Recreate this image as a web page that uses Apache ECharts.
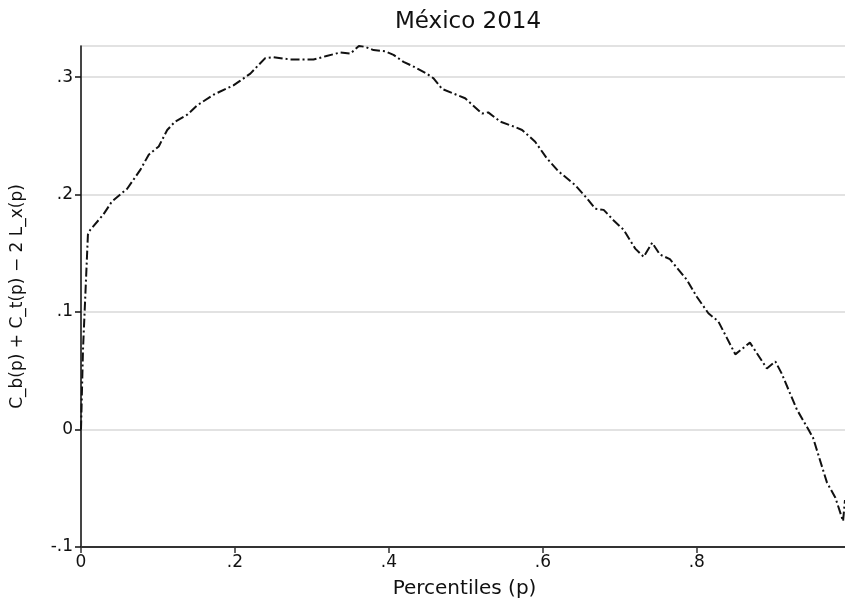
<!DOCTYPE html>
<html>
<head>
<meta charset="utf-8">
<script src="https://cdn.jsdelivr.net/npm/echarts@6/dist/echarts.min.js"></script>
<style>html,body{margin:0;padding:0;background:#fff}#c{width:845px;height:602px}</style>
</head>
<body>
<div id="c"></div>
<script>
const titleText = "México 2014";
const xName = "Percentiles (p)";
const yName = "C_b(p) + C_t(p) − 2 L_x(p)";
const xTicks = [0, 0.2, 0.4, 0.6, 0.8];
const yTicks = [-0.1, 0, 0.1, 0.2, 0.3];
const pVals = [0, 0.0026, 0.009, 0.012, 0.029, 0.040, 0.060, 0.077, 0.088, 0.101, 0.112, 0.122, 0.138, 0.151, 0.172, 0.198, 0.207, 0.220, 0.239, 0.250, 0.272, 0.302, 0.319, 0.337, 0.350, 0.361, 0.369, 0.380, 0.395, 0.406, 0.419, 0.432, 0.449, 0.458, 0.469, 0.484, 0.499, 0.521, 0.529, 0.545, 0.562, 0.573, 0.590, 0.605, 0.620, 0.642, 0.657, 0.668, 0.679, 0.692, 0.705, 0.720, 0.731, 0.742, 0.752, 0.765, 0.787, 0.800, 0.815, 0.828, 0.839, 0.850, 0.869, 0.891, 0.902, 0.910, 0.930, 0.945, 0.951, 0.969, 0.980, 0.990, 0.9925];
const yVals = [0, 0.068, 0.166, 0.170, 0.183, 0.194, 0.205, 0.221, 0.234, 0.241, 0.255, 0.262, 0.268, 0.276, 0.285, 0.293, 0.297, 0.303, 0.316, 0.317, 0.315, 0.315, 0.318, 0.321, 0.320, 0.3265, 0.3258, 0.323, 0.322, 0.319, 0.313, 0.309, 0.303, 0.299, 0.290, 0.286, 0.282, 0.269, 0.270, 0.262, 0.258, 0.255, 0.245, 0.231, 0.220, 0.208, 0.197, 0.188, 0.187, 0.178, 0.170, 0.154, 0.147, 0.159, 0.149, 0.145, 0.1275, 0.113, 0.099, 0.092, 0.078, 0.064, 0.074, 0.052, 0.058, 0.048, 0.017, 0.000, -0.007, -0.045, -0.058, -0.078, -0.060];

const fmt = v => {
  const r = Math.round(v * 10) / 10;
  if (Math.abs(v - r) > 1e-6) return '';
  if (r === 0) return '0';
  return String(r).replace('0.', '.');
};
const fontFam = '"DejaVu Sans", "Noto Sans", sans-serif';
const chart = echarts.init(document.getElementById('c'), null, {renderer: 'canvas'});
chart.setOption({
  animation: false,
  backgroundColor: '#fff',
  title: {
    text: titleText, left: 463, top: 6, textAlign: 'center',
    textStyle: {fontFamily: fontFam, fontSize: 23, fontWeight: 'normal', color: '#111'}
  },
  grid: {left: 81, right: -3, top: 46, bottom: 55, outerBoundsMode: 'none', containLabel: false,
         show: true, borderColor: '#d9d9d9', borderWidth: 1.5},
  xAxis: {
    type: 'value', min: 0, max: 0.9964, interval: 0.2,
    name: xName, nameLocation: 'middle', nameGap: 32,
    nameTextStyle: {fontFamily: fontFam, fontSize: 20, color: '#111'},
    axisLine: {show: true, onZero: false, lineStyle: {color: '#333', width: 2}},
    axisTick: {show: true, length: 6, lineStyle: {color: '#333', width: 1.5}, customValues: xTicks},
    axisLabel: {fontFamily: fontFam, fontSize: 17, color: '#111', margin: 7, formatter: fmt, customValues: xTicks},
    splitLine: {show: false}
  },
  yAxis: {
    type: 'value', min: -0.1, max: 0.3265, interval: 0.1,
    name: yName, nameLocation: 'middle', nameGap: 55,
    nameTextStyle: {fontFamily: fontFam, fontSize: 17, color: '#111'},
    axisLine: {show: true, lineStyle: {color: '#111', width: 1.5}},
    axisTick: {show: true, length: 6, lineStyle: {color: '#111', width: 1.5}, customValues: yTicks},
    axisLabel: {fontFamily: fontFam, fontSize: 17, color: '#111', margin: 8, formatter: fmt, customValues: yTicks},
    splitLine: {show: true, lineStyle: {color: '#d9d9d9', width: 1.5}}
  },
  series: [{
    type: 'line', showSymbol: false, silent: true,
    data: pVals.map((p, i) => [p, yVals[i]]),
    lineStyle: {color: '#111', width: 2, type: [9, 3, 2, 3]}
  }]
});
</script>
</body>
</html>
